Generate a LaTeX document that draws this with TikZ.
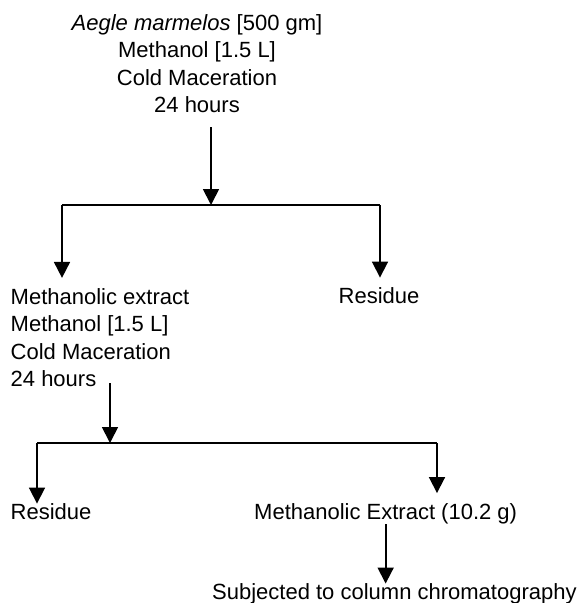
\documentclass[tikz,border=0pt]{standalone}
\usepackage{fontspec}
\setmainfont{Liberation Sans}
\usetikzlibrary{arrows.meta}
\begin{document}
\begin{tikzpicture}[x=1pt,y=-1pt,
  txt/.style={inner sep=0pt,font=\fontsize{22}{27.5}\selectfont},
  arr/.style={line width=1.8pt,-{Triangle[width=16pt,length=16pt]}},
  ln/.style={line width=1.8pt}]
\useasboundingbox (0,0) rectangle (580,603);
% nodes
\node[txt,align=center,anchor=north] (top) at (197,13.9)
  {\textit{Aegle marmelos} [500 gm]\\Methanol [1.5 L]\\Cold Maceration\\24 hours};
\node[txt,align=left,anchor=north west] (me1) at (10.5,287.9)
  {Methanolic extract\\Methanol [1.5 L]\\Cold Maceration\\24 hours};
\node[txt,anchor=base] (res1) at (379,303.7) {Residue};
\node[txt,anchor=base west] (res2) at (10.5,519.7) {Residue};
\node[txt,anchor=base west] (me2) at (254,519.7) {Methanolic Extract (10.2 g)};
\node[txt,anchor=base west] (sub) at (212,599.7) {Subjected to column chromatography};
% junction coordinates
\coordinate (a1s) at (211,127);
\coordinate (j1) at (211,205);
\coordinate (bL) at (62,205);
\coordinate (bR) at (380,205);
\coordinate (a2s) at (110,383);
\coordinate (j2) at (110,443);
\coordinate (cL) at (37,443);
\coordinate (cR) at (437,443);
% connectors
\draw[arr] (a1s) -- (j1);
\draw[ln] (bL) -- (bR);
\draw[arr,shorten >=10pt] (bL) -- (bL |- me1.north);
\draw[arr,shorten >=10pt] (bR) -- (bR |- res1.north);
\draw[arr] (a2s) -- (j2);
\draw[ln] (cL) -- (cR);
\draw[arr,shorten >=0pt] (cL) -- (cL |- res2.north);
\draw[arr,shorten >=10.5pt] (cR) -- (cR |- me2.north);
\draw[arr] (me2.south) -- (me2.south |- sub.north);
\end{tikzpicture}
\end{document}
